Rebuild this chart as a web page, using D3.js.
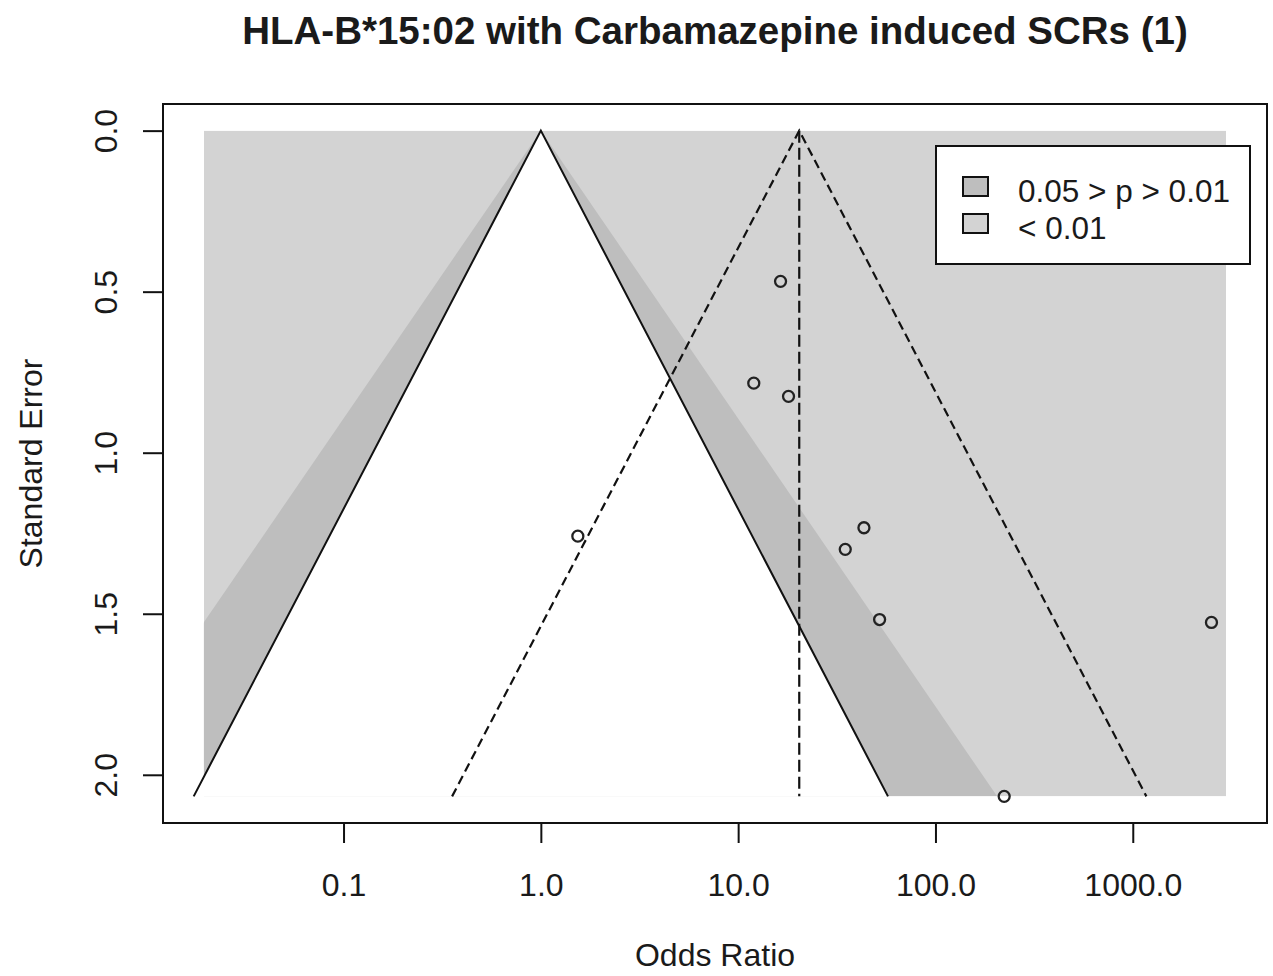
<!DOCTYPE html>
<html lang="en">

<head>
    <meta charset="UTF-8">
    <title>Funnel plot</title>
    <script src="https://cdnjs.cloudflare.com/ajax/libs/d3/7.8.5/d3.min.js"></script>
    <style>
        body { margin: 0; background: #fff; }
        text { font-family: "Liberation Sans", Arial, sans-serif; fill: #1a1a1a; }
    </style>
</head>

<body>
    <div id="chart"></div>
    <script>
        // study estimates (odds ratio) and their standard errors
        var orValues = [16.4, 12.0, 18.0, 1.54, 43.4, 34.9, 52.1, 2505, 223];
        var seValues = [0.468, 0.784, 0.825, 1.259, 1.233, 1.300, 1.518, 1.527, 2.067];
        var pooledOR = 20.4;
        var xLim = [0.0196, 2972];          // odds ratio range of the contour region
        var xTicks = [0.1, 1, 10, 100, 1000];
        var yTicks = [0, 0.5, 1, 1.5, 2];
        var zLevels = [1.96, 2.576];        // 95% and 99% contours
        var legendLabels = ["0.05 > p > 0.01", "< 0.01"];

        var darkFill = "#bebebe", lightFill = "#d3d3d3";
        var W = 1273, H = 976;
        var box = { left: 163, right: 1267, top: 104, bottom: 823 };

        var seMax = d3.max(seValues);
        var lx0 = Math.log10(xLim[0]), lx1 = Math.log10(xLim[1]);
        var ext = 0.04 * (lx1 - lx0);

        var x = d3.scaleLog()
            .domain([Math.pow(10, lx0 - ext), Math.pow(10, lx1 + ext)])
            .range([box.left, box.right]);
        var y = d3.scaleLinear()
            .domain([-0.04 * seMax, 1.04 * seMax])
            .range([box.top, box.bottom]);

        // bound of the funnel at a given se, centred on OR c
        function bound(c, z, se, sign) {
            return c * Math.exp(sign * z * se);
        }

        var svg = d3.select("#chart").append("svg")
            .attr("width", W).attr("height", H);

        svg.append("clipPath").attr("id", "region")
            .append("rect")
            .attr("x", x(xLim[0])).attr("y", y(0))
            .attr("width", x(xLim[1]) - x(xLim[0]))
            .attr("height", y(seMax) - y(0));

        var contours = svg.append("g").attr("clip-path", "url(#region)");
        contours.append("rect")
            .attr("x", x(xLim[0])).attr("y", y(0))
            .attr("width", x(xLim[1]) - x(xLim[0]))
            .attr("height", y(seMax) - y(0))
            .attr("fill", lightFill);

        var line = d3.line().x(d => x(d[0])).y(d => y(d[1]));
        function funnel(c, z) {
            return [[bound(c, z, seMax, -1), seMax], [c, 0], [bound(c, z, seMax, 1), seMax]];
        }

        contours.append("path")
            .attr("d", line(funnel(1, zLevels[1])) + "Z")
            .attr("fill", darkFill);
        svg.append("path")
            .attr("d", line(funnel(1, zLevels[0])) + "Z")
            .attr("fill", "#fff");
        svg.append("path")
            .attr("d", line(funnel(1, zLevels[0])))
            .attr("fill", "none").attr("stroke", "#111").attr("stroke-width", 2);

        // pseudo confidence funnel around the pooled estimate
        svg.append("path")
            .attr("d", line(funnel(pooledOR, zLevels[0])))
            .attr("fill", "none").attr("stroke", "#111").attr("stroke-width", 2.2)
            .attr("stroke-dasharray", "9,5");
        svg.append("path")
            .attr("d", line([[pooledOR, 0], [pooledOR, seMax]]))
            .attr("fill", "none").attr("stroke", "#111").attr("stroke-width", 2.2)
            .attr("stroke-dasharray", "12,5");

        svg.append("g").selectAll("circle")
            .data(orValues)
            .enter()
            .append("circle")
            .attr("cx", d => x(d))
            .attr("cy", (d, i) => y(seValues[i]))
            .attr("r", 5.5)
            .attr("fill", "none")
            .attr("stroke", "#222")
            .attr("stroke-width", 2.3);

        // axes
        var xAxis = svg.append("g")
            .attr("transform", "translate(0," + box.bottom + ")")
            .call(d3.axisBottom(x).tickValues(xTicks).tickFormat(d3.format(".1f"))
                .tickSize(20).tickPadding(30));
        var yAxis = svg.append("g")
            .attr("transform", "translate(" + box.left + ",0)")
            .call(d3.axisLeft(y).tickValues(yTicks).tickFormat(d3.format(".1f"))
                .tickSize(20));
        [xAxis, yAxis].forEach(function (a) {
            a.select(".domain").remove();
            a.selectAll(".tick line").attr("stroke", "#111").attr("stroke-width", 2);
            a.selectAll(".tick text").style("font-size", "32px").attr("fill", "#1a1a1a");
        });
        yAxis.selectAll(".tick text")
            .attr("x", null).attr("dy", null)
            .attr("text-anchor", "middle")
            .attr("transform", "translate(-46,0) rotate(-90)");

        svg.append("rect")
            .attr("x", box.left).attr("y", box.top)
            .attr("width", box.right - box.left).attr("height", box.bottom - box.top)
            .attr("fill", "none").attr("stroke", "#111").attr("stroke-width", 2);

        // titles
        svg.append("text")
            .attr("x", (box.left + box.right) / 2).attr("y", 44)
            .attr("text-anchor", "middle")
            .style("font-size", "38.5px").style("font-weight", "bold")
            .text("HLA-B*15:02 with Carbamazepine induced SCRs (1)");
        svg.append("text")
            .attr("x", (box.left + box.right) / 2).attr("y", 966)
            .attr("text-anchor", "middle")
            .style("font-size", "32px")
            .text("Odds Ratio");
        svg.append("text")
            .attr("transform", "translate(42," + (box.top + box.bottom) / 2 + ") rotate(-90)")
            .attr("text-anchor", "middle")
            .style("font-size", "32px")
            .text("Standard Error");

        // legend
        var legend = svg.append("g").attr("transform", "translate(936,146)");
        legend.append("rect")
            .attr("width", 314).attr("height", 118)
            .attr("fill", "#fff").attr("stroke", "#111").attr("stroke-width", 2);
        var items = legend.selectAll("g.item")
            .data(legendLabels)
            .enter()
            .append("g")
            .attr("class", "item")
            .attr("transform", (d, i) => "translate(0," + (i * 37) + ")");
        items.append("rect")
            .attr("x", 27).attr("y", 31)
            .attr("width", 25).attr("height", 19)
            .attr("fill", (d, i) => i === 0 ? darkFill : lightFill)
            .attr("stroke", "#111").attr("stroke-width", 2);
        items.append("text")
            .attr("x", 82).attr("y", 56)
            .style("font-size", "31.5px")
            .text(d => d);
    </script>
</body>

</html>
